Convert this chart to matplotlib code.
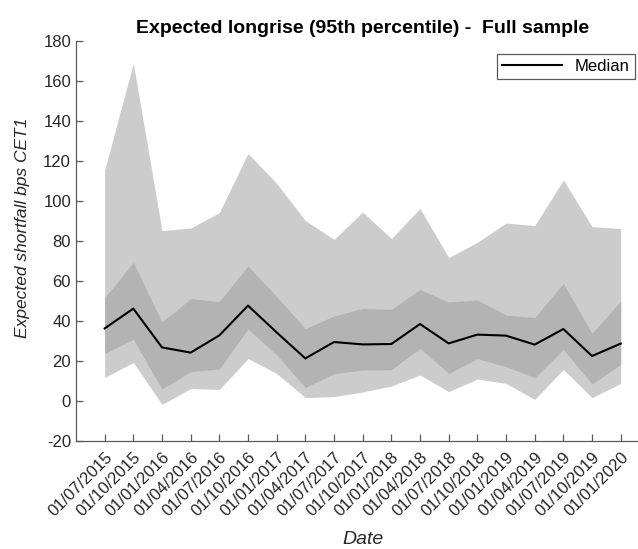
import matplotlib
matplotlib.use("Agg")
import matplotlib.pyplot as plt
import numpy as np

plt.rcParams['font.family'] = ['Liberation Sans', 'DejaVu Sans']
plt.rcParams['axes.unicode_minus'] = False

dates = ['01/07/2015', '01/10/2015', '01/01/2016', '01/04/2016', '01/07/2016',
         '01/10/2016', '01/01/2017', '01/04/2017', '01/07/2017', '01/10/2017',
         '01/01/2018', '01/04/2018', '01/07/2018', '01/10/2018', '01/01/2019',
         '01/04/2019', '01/07/2019', '01/10/2019', '01/01/2020']

# outer band (light grey)
outer_hi = [115.5, 168.8, 85.2, 86.5, 94.2, 123.8, 108.8, 90.2, 80.8, 94.5,
            81.2, 96.3, 71.7, 79.3, 89.0, 87.7, 110.5, 87.2, 86.2]
outer_lo = [11.8, 19.3, -1.7, 6.2, 5.8, 21.2, 13.8, 1.7, 2.2, 4.5,
            7.5, 13.0, 4.7, 11.0, 8.8, 0.8, 15.8, 1.7, 8.8]
# inner band (darker grey)
inner_hi = [51.7, 69.3, 39.5, 51.2, 49.7, 67.5, 52.2, 36.2, 42.5, 46.3,
            45.8, 55.8, 49.5, 50.5, 43.0, 41.7, 58.8, 33.8, 50.0]
inner_lo = [23.8, 30.8, 6.0, 14.7, 16.0, 36.0, 23.0, 6.8, 13.7, 15.5,
            15.7, 26.3, 13.8, 21.2, 17.2, 11.7, 25.8, 8.5, 18.3]
median = [36.3, 46.2, 26.8, 24.2, 32.8, 47.7, 34.3, 21.3, 29.5, 28.3,
          28.5, 38.5, 28.8, 33.2, 32.7, 28.2, 36.0, 22.5, 28.7]

x = np.arange(1, len(dates) + 1)
txtcol = '#262626'
axcol = '#5a5a5a'

fig = plt.figure(figsize=(6.38, 5.49), dpi=100)
ax = fig.add_axes([0.1191, 0.1967, 0.8987, 0.7286])

ax.fill_between(x, outer_lo, outer_hi, color='#cccccc', lw=0)
ax.fill_between(x, inner_lo, inner_hi, color='#b3b3b3', lw=0)
ax.plot(x, median, color='black', lw=1.5, label='Median')

ax.set_xlim(0, 20)
ax.set_ylim(-20, 180)
ax.set_yticks(np.arange(-20, 181, 20))
ax.set_xticks(x)
ax.set_xticklabels(dates, rotation=45, ha='right', rotation_mode='anchor')

for s in ['top', 'right']:
    ax.spines[s].set_visible(False)
for s in ['left', 'bottom']:
    ax.spines[s].set_color(axcol)
    ax.spines[s].set_linewidth(0.9)
ax.tick_params(direction='in', length=5, width=0.9, color=axcol,
               labelcolor=txtcol, labelsize=12)
ax.tick_params(axis='x', pad=6)

ax.set_title('Expected longrise (95th percentile) -  Full sample',
             fontsize=14, fontweight='bold', pad=6)
ax.set_ylabel('Expected shortfall bps CET1', fontsize=12.5, style='italic',
              color=txtcol)
ax.yaxis.set_label_coords(-0.08, 0.532)
ax.set_xlabel('Date', fontsize=14, style='italic', color=txtcol, labelpad=9)

leg = ax.legend(loc='upper right', bbox_to_anchor=(635 / 638, 1 - 54 / 549),
                bbox_transform=fig.transFigure, fontsize=12, fancybox=False,
                framealpha=1, borderpad=0.3, handlelength=3.6, borderaxespad=0)
leg.get_frame().set_edgecolor(axcol)
leg.get_frame().set_linewidth(0.9)

fig.savefig('out.png', dpi=100)
